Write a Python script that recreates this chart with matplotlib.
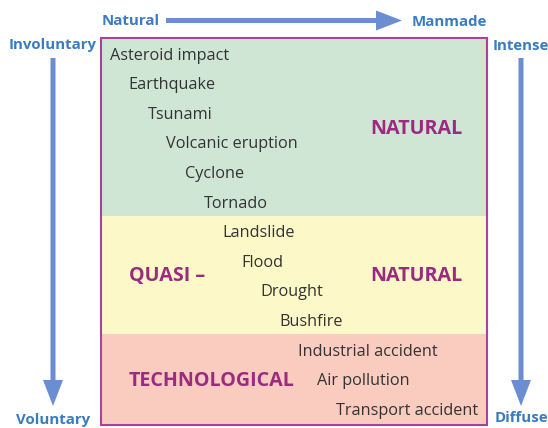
import matplotlib
matplotlib.use("Agg")
from matplotlib import pyplot as plt
from matplotlib.patches import Rectangle, FancyArrow

# hazards listed from most natural to most manmade
hazards = ["Asteroid impact", "Earthquake", "Tsunami", "Volcanic eruption",
           "Cyclone", "Tornado", "Landslide", "Flood", "Drought", "Bushfire",
           "Industrial accident", "Air pollution", "Transport accident"]
# bands: name, first row, last row
bands = [("green", 0, 5), ("yellow", 6, 9), ("red", 10, 12)]
band_labels = [("NATURAL", 370, 129), ("QUASI \u2013", 129, 276),
               ("NATURAL", 370, 276), ("TECHNOLOGICAL", 129, 381)]
axis_top = ("Natural", "Manmade")
axis_left = ("Involuntary", "Voluntary")
axis_right = ("Intense", "Diffuse")

fill = {"green": "#cfe6d5", "yellow": "#fdf8c8", "red": "#f9ccbf"}
purple = "#9b2a80"
blue = "#3b7bbf"
arrow_c = "#6b8dd2"
grey = "#333333"

plt.rcParams['font.family'] = ['Open Sans', 'DejaVu Sans']

fig = plt.figure(figsize=(5.48, 4.28), dpi=100)
ax = fig.add_axes([0, 0, 1, 1])
ax.set_xlim(0, 548)
ax.set_ylim(428, 0)
ax.axis('off')

box_l, box_r, box_t, box_b = 101, 487, 38, 425
edges = [box_t, 216, 334, box_b]
for i, (name, a, b) in enumerate(bands):
    ax.add_patch(Rectangle((box_l, edges[i]), box_r - box_l, edges[i+1] - edges[i],
                           facecolor=fill[name], edgecolor='none'))
ax.add_patch(Rectangle((box_l, box_t), box_r - box_l, box_b - box_t,
                       facecolor='none', edgecolor="#a8439a", lw=1.5))

x0, dx = 110, 18.8
y0, dy = 55.5, 29.6
for i, h in enumerate(hazards):
    ax.text(x0 + i*dx, y0 + i*dy, h, ha='left', va='center', fontsize=11.7, color=grey)

for lab, x, y in band_labels:
    ax.text(x, y, lab, ha='left', va='center', fontsize=14.2, color=purple,
            fontweight='bold')

# axis labels
kw = dict(va='center', fontsize=10.8, color=blue, fontweight='bold')
ax.text(102, 21, axis_top[0], ha='left', **kw)
ax.text(412, 22, axis_top[1], ha='left', **kw)
ax.text(53, 45, axis_left[0], ha='center', **kw)
ax.text(53, 420, axis_left[1], ha='center', **kw)
ax.text(521, 46, axis_right[0], ha='center', **kw)
ax.text(521, 418, axis_right[1], ha='center', **kw)

# arrows
ax.add_patch(FancyArrow(166, 20.5, 236, 0, width=5, head_width=20, head_length=26,
                        length_includes_head=True, color=arrow_c, lw=0))
for xa in (53, 521):
    ax.add_patch(FancyArrow(xa, 58, 0, 348, width=5, head_width=20, head_length=26,
                            length_includes_head=True, color=arrow_c, lw=0))

fig.savefig("out.png", dpi=100)
